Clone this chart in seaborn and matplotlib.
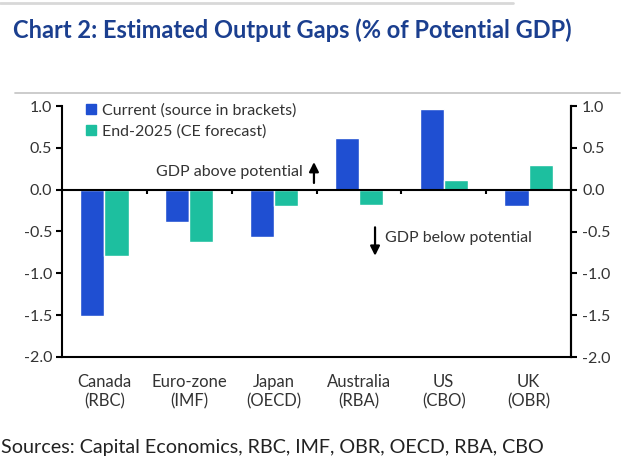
import numpy as np
import pandas as pd
import matplotlib
matplotlib.use("Agg")
import matplotlib.pyplot as plt
from matplotlib.lines import Line2D
from matplotlib.ticker import FormatStrFormatter, FixedLocator
import seaborn as sns

countries = ["Canada\n(RBC)", "Euro-zone\n(IMF)", "Japan\n(OECD)", "Australia\n(RBA)", "US\n(CBO)", "UK\n(OBR)"]
series_names = ["Current (source in brackets)", "End-2025 (CE forecast)"]
current = [-1.51, -0.39, -0.56, 0.62, 0.96, -0.19]
end2025 = [-0.79, -0.62, -0.19, -0.18, 0.11, 0.29]
yticks = [1.0, 0.5, 0.0, -0.5, -1.0, -1.5, -2.0]

title = "Chart 2: Estimated Output Gaps (% of Potential GDP)"
source = "Sources: Capital Economics, RBC, IMF, OBR, OECD, RBA, CBO"

df = pd.DataFrame({
    "country": countries * 2,
    "series": [series_names[0]] * len(countries) + [series_names[1]] * len(countries),
    "value": current + end2025,
})

sns.set_style("white")
plt.rcParams["font.family"] = ["Lato", "DejaVu Sans"]
plt.rcParams["axes.unicode_minus"] = False

blue = "#1F4FD2"
teal = "#1DBF9F"
palette = {series_names[0]: blue, series_names[1]: teal}
txt = "#333333"

fig = plt.figure(figsize=(6.4, 4.65), dpi=100)
ax = fig.add_axes([62 / 640, 1 - 357 / 465, (571 - 62) / 640, (357 - 106) / 465])

sns.barplot(data=df, x="country", y="value", hue="series", palette=palette,
            width=0.57, gap=0, saturation=1, ax=ax, legend=False)

ax.set_ylim(-2.0, 1.0)
ax.set_xlim(-0.5, len(countries) - 0.5)
ax.set_xlabel("")
ax.set_ylabel("")
ax.yaxis.set_major_locator(FixedLocator(yticks))
ax.yaxis.set_major_formatter(FormatStrFormatter("%.1f"))
ax.tick_params(axis="y", direction="out", length=4, width=1.5, color="black",
               labelsize=11.5, labelcolor=txt, pad=3)
ax.tick_params(axis="x", which="major", length=0, labelsize=12, labelcolor=txt, pad=12)
for lab in ax.get_xticklabels():
    lab.set_linespacing(1.3)
ax.xaxis.set_minor_locator(FixedLocator([(len(countries) - 1) / 2]))
ax.tick_params(axis="x", which="minor", direction="out", length=4, width=1.5, color="black")

for side in ["left", "bottom", "right"]:
    ax.spines[side].set_visible(True)
    ax.spines[side].set_color("black")
    ax.spines[side].set_linewidth(1.5)
ax.spines["top"].set_visible(False)

# zero line with category boundary ticks
ax.axhline(0, color="black", lw=1.5, zorder=3)
bounds = np.arange(len(countries) - 1) + 0.5
ax.vlines(bounds, -0.05, 0, color="black", lw=1.5, zorder=3)

# right axis
ax2 = ax.twinx()
ax2.set_ylim(ax.get_ylim())
ax2.yaxis.set_major_locator(FixedLocator(yticks))
ax2.yaxis.set_major_formatter(FormatStrFormatter("%.1f"))
ax2.tick_params(axis="y", direction="out", length=4, width=1.5, color="black",
                labelsize=11.5, labelcolor=txt, pad=4)
for side in ["left", "bottom", "top"]:
    ax2.spines[side].set_visible(False)
ax2.spines["right"].set_color("black")
ax2.spines["right"].set_linewidth(1.5)

# legend
handles = [Line2D([], [], marker="s", linestyle="", markersize=7, color=c) for c in (blue, teal)]
leg = ax.legend(handles, series_names, loc="upper left", bbox_to_anchor=(0.035, 1.035),
                frameon=False, fontsize=11.5, handlelength=0.6, handletextpad=0.4,
                labelspacing=0.4, borderaxespad=0)
for t in leg.get_texts():
    t.set_color(txt)

# annotations
arrow = dict(arrowstyle="-|>", color="black", lw=1.6, mutation_scale=14, shrinkA=0, shrinkB=0)
ax.text(2.34, 0.21, "GDP above potential", ha="right", va="center", fontsize=11.5, color=txt)
ax.annotate("", xy=(2.47, 0.33), xytext=(2.47, 0.08), arrowprops=arrow)
ax.text(3.31, -0.58, "GDP below potential", ha="left", va="center", fontsize=11.5, color=txt)
ax.annotate("", xy=(3.19, -0.79), xytext=(3.19, -0.45), arrowprops=arrow)

# title, source, decoration lines
fig.text(13 / 640, 1 - 30 / 465, title, ha="left", va="center", fontsize=17,
         fontweight="bold", color="#1B3F8F", family=["Lato", "DejaVu Sans"])
fig.text(1 / 640, 1 - 447 / 465, source, ha="left", va="center", fontsize=14.2, color="#222222")
fig.add_artist(Line2D([15 / 640, 620 / 640], [1 - 93 / 465, 1 - 93 / 465], color="#C8C8C8", lw=1.3))
fig.add_artist(Line2D([0, 513 / 640], [1 - 3 / 465, 1 - 3 / 465], color="#D8D8D8", lw=2))

fig.savefig("out.png", dpi=100)
